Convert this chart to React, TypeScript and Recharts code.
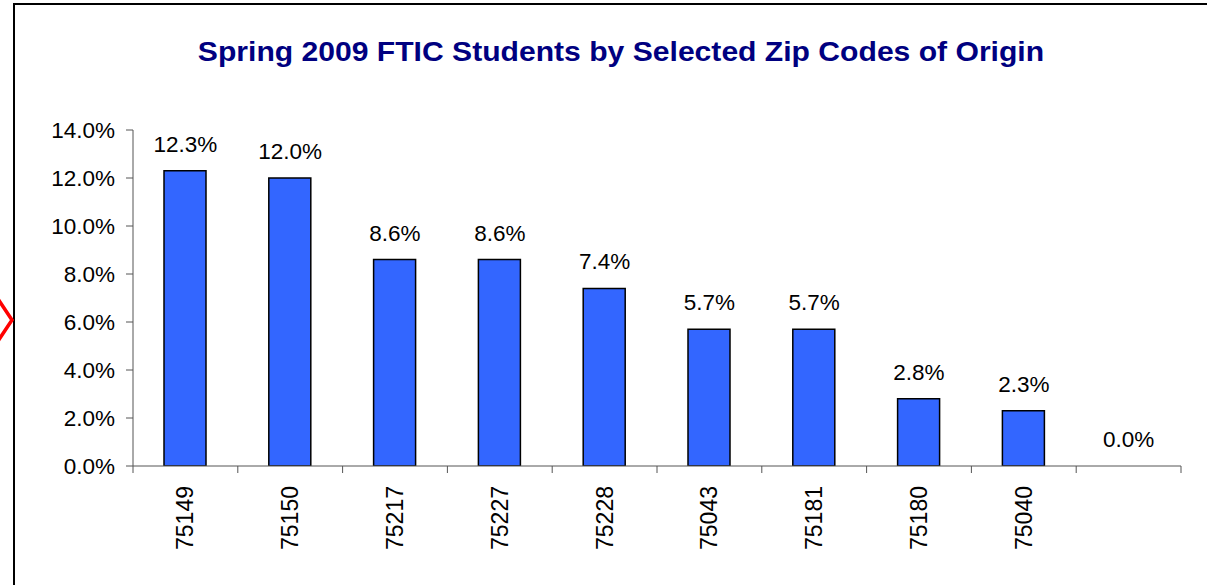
import { ComposedChart, Bar, Line, XAxis, YAxis, LabelList } from "recharts";

const zipCodes = ["75149", "75150", "75217", "75227", "75228", "75043", "75181", "75180", "75040", ""];
const shares = [12.3, 12.0, 8.6, 8.6, 7.4, 5.7, 5.7, 2.8, 2.3, 0.0];
const yTicks = [0, 2, 4, 6, 8, 10, 12, 14];

const data = zipCodes.map((zip, i) => ({ zip, share: shares[i] }));

const FONT = "'Liberation Sans', Arial, sans-serif";
const pct = (v: number) => `${v.toFixed(1)}%`;

// category ticks sit on the band boundaries, labels rotated in the middle
function ZipTick(props: any) {
  const { x, y, payload, index } = props;
  const half = payload?.offset ?? 52.4;
  const last = index === zipCodes.length - 1;
  return (
    <g>
      <line x1={x - half} x2={x - half} y1={y} y2={y + 7} stroke="#555" />
      {last && <line x1={x + half} x2={x + half} y1={y} y2={y + 7} stroke="#555" />}
      <text
        x={x}
        y={y + 20}
        transform={`rotate(-90 ${x} ${y + 20})`}
        textAnchor="end"
        dominantBaseline="central"
        fontSize={23}
        fontFamily={FONT}
        fill="#000"
      >
        {payload.value}
      </text>
    </g>
  );
}

export default function App() {
  return (
    <div
      style={{
        position: "absolute",
        left: 0,
        top: 0,
        width: 1207,
        height: 585,
        background: "#fff",
        overflow: "hidden",
        fontFamily: FONT,
      }}
    >
      <div
        style={{
          position: "absolute",
          left: 13,
          top: 3,
          right: -10,
          bottom: -10,
          borderLeft: "2px solid #000",
          borderTop: "2px solid #000",
        }}
      />
      <svg width={16} height={50} style={{ position: "absolute", left: 0, top: 296 }}>
        <polyline points="-2,3 12,24 -2,45" fill="none" stroke="#ff0000" strokeWidth={3.5} />
      </svg>
      <div
        style={{
          position: "absolute",
          left: 0,
          width: 1242,
          top: 36,
          textAlign: "center",
          fontWeight: "bold",
          fontSize: 28,
          color: "#000080",
          transform: "scaleX(1.075)",
          transformOrigin: "621px 0",
        }}
      >
        Spring 2009 FTIC Students by Selected Zip Codes of Origin
      </div>
      <div style={{ position: "absolute", left: 0, top: 0 }}>
        <ComposedChart
          width={1207}
          height={585}
          data={data}
          margin={{ top: 130, right: 26, bottom: 0, left: 0 }}
          barSize={42}
        >
          <YAxis
            width={133}
            domain={[0, 14]}
            ticks={yTicks}
            interval={0}
            tickFormatter={pct}
            tickSize={7}
            tickMargin={11}
            stroke="#555"
            tick={{ fontSize: 22.5, fontFamily: FONT, fill: "#000" }}
            allowDataOverflow
          />
          <XAxis
            dataKey="zip"
            height={119}
            interval={0}
            tickLine={false}
            tickSize={0}
            tickMargin={0}
            stroke="#555"
            tick={<ZipTick />}
          />
          <Bar
            dataKey="share"
            fill="#3366ff"
            stroke="#000"
            strokeWidth={1.5}
            isAnimationActive={false}
          />
          {/* invisible series carrying the value labels, so the 0.0% one shows too */}
          <Line
            dataKey="share"
            stroke="none"
            dot={false}
            activeDot={false}
            legendType="none"
            isAnimationActive={false}
          >
            <LabelList
              dataKey="share"
              position="top"
              offset={19}
              formatter={(v: any) => pct(Number(v))}
              style={{ fontSize: 22.5, fontFamily: FONT, fill: "#000" }}
            />
          </Line>
        </ComposedChart>
      </div>
    </div>
  );
}
